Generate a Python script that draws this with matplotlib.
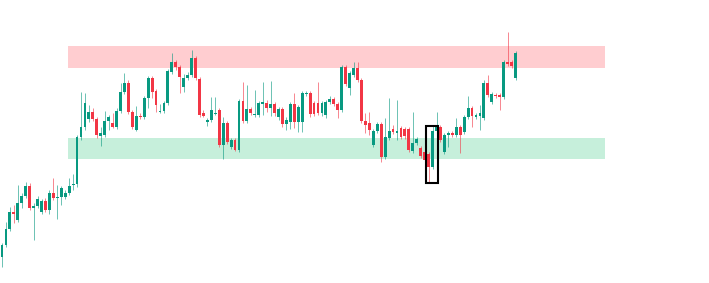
import matplotlib
matplotlib.use("Agg")
import matplotlib.pyplot as plt
from matplotlib.patches import Rectangle
import numpy as np

# OHLC values (arbitrary price units)
opens = [26, 38, 54, 71, 63, 80, 87, 97, 75, 77, 71, 82, 73, 90, 85, 86, 86, 90, 98, 99,
         146, 156, 164, 171, 164, 147, 148, 162, 160, 156, 172, 191, 200, 171, 153, 167, 166, 185, 205, 192,
         171, 172, 180, 211, 221, 216, 196, 205, 208, 225, 204, 170, 161, 163, 169, 173, 138, 160, 136, 143,
         133, 182, 162, 174, 168, 168, 179, 180, 175, 179, 166, 174, 159, 161, 179, 161, 161, 189, 190, 180,
         180, 170, 168, 181, 184, 179, 173, 216, 195, 208, 215, 203, 162, 160, 138, 152, 159, 126, 145, 154,
         150, 155, 154, 154, 132, 140, 135, 131, 129, 116, 152, 156, 131, 148, 150, 148, 156, 151, 166, 175,
         166, 167, 165, 200, 181, 188, 188, 186, 221, 221, 205]
closes = [38, 54, 71, 69, 80, 87, 97, 75, 77, 84, 82, 73, 90, 85, 86, 95, 90, 97, 99, 146,
          156, 180, 171, 164, 148, 150, 162, 166, 156, 172, 191, 200, 171, 156, 167, 166, 185, 205, 191, 178,
          172, 180, 212, 221, 216, 206, 205, 208, 225, 205, 168, 167, 163, 173, 170, 138, 160, 141, 143, 133,
          182, 162, 174, 170, 169, 180, 181, 175, 179, 170, 174, 159, 163, 179, 161, 176, 190, 190, 169, 169,
          170, 180, 181, 184, 179, 173, 216, 199, 210, 215, 203, 162, 158, 153, 152, 159, 126, 146, 152, 151,
          152, 146, 147, 133, 140, 144, 127, 123, 116, 152, 156, 143, 148, 150, 148, 156, 148, 166, 175, 167,
          168, 170, 200, 188, 189, 187, 186, 221, 219, 217, 230]
highs = [40, 61, 76, 78, 98, 90, 101, 100, 80, 87, 84, 85, 93, 105, 98, 97, 93, 105, 109, 148,
         191, 190, 178, 175, 166, 156, 172, 168, 170, 175, 200, 210, 203, 173, 177, 170, 187, 207, 207, 194,
         179, 182, 214, 230, 223, 218, 209, 211, 233, 227, 206, 173, 165, 186, 186, 175, 166, 162, 145, 145,
         184, 201, 198, 176, 193, 182, 201, 183, 202, 181, 176, 176, 166, 181, 190, 178, 192, 192, 192, 182,
         201, 182, 183, 187, 186, 181, 218, 218, 212, 221, 221, 205, 170, 171, 154, 161, 161, 165, 185, 158,
         183, 157, 156, 156, 171, 146, 137, 133, 131, 158, 171, 158, 150, 152, 152, 165, 158, 168, 187, 177,
         170, 178, 203, 208, 191, 190, 190, 223, 251, 223, 232]
lows = [16, 36, 52, 60, 61, 75, 85, 73, 43, 75, 69, 71, 69, 83, 64, 78, 84, 88, 93, 96,
        143, 153, 161, 162, 145, 137, 146, 153, 155, 154, 170, 189, 169, 154, 152, 164, 164, 175, 185, 171,
        170, 170, 178, 209, 213, 190, 191, 203, 206, 203, 166, 166, 157, 161, 168, 136, 124, 139, 134, 132,
        131, 160, 160, 168, 166, 166, 168, 171, 167, 167, 163, 156, 153, 154, 155, 151, 151, 187, 166, 167,
        168, 167, 165, 179, 177, 165, 171, 197, 188, 206, 201, 160, 150, 148, 136, 150, 121, 124, 143, 149,
        143, 144, 144, 131, 130, 138, 125, 121, 101, 114, 150, 141, 129, 136, 146, 146, 130, 149, 164, 156,
        164, 153, 163, 186, 179, 185, 173, 184, 217, 215, 203]

# supply / demand zones (price ranges) and the highlighted candles
supply_zone = (215, 237)
demand_zone = (124, 145)
zone_from, zone_to = 16.7, 152.7
box_candles = (107.35, 110.4)
box_prices = (100, 157)

up_col = "#089981"
down_col = "#F23645"

fig = plt.figure(figsize=(7.09, 2.83), dpi=100)
ax = fig.add_axes([0, 0, 1, 1])

ax.add_patch(Rectangle((zone_from, supply_zone[0]), zone_to - zone_from,
                       supply_zone[1] - supply_zone[0], color="#FFCDD0", lw=0, zorder=0))
ax.add_patch(Rectangle((zone_from, demand_zone[0]), zone_to - zone_from,
                       demand_zone[1] - demand_zone[0], color="#C6EFDB", lw=0, zorder=0))

x = np.arange(len(opens))
o = np.array(opens)
c = np.array(closes)
colors = np.where(c >= o, up_col, down_col)
ax.vlines(x, lows, highs, colors=colors, lw=0.7, alpha=0.6, zorder=2)
body = np.maximum(np.abs(c - o), 1.0)
ax.bar(x, body, bottom=np.minimum(o, c), width=0.72, color=colors, lw=0, zorder=3)

ax.add_patch(Rectangle((box_candles[0], box_prices[0]), box_candles[1] - box_candles[0],
                       box_prices[1] - box_prices[0], fill=False, edgecolor="black",
                       lw=1.5, zorder=4))

ax.set_xlim(-0.506, 178.98)
ax.set_ylim(0, 283)
ax.axis("off")

fig.savefig("out.png", dpi=100)
